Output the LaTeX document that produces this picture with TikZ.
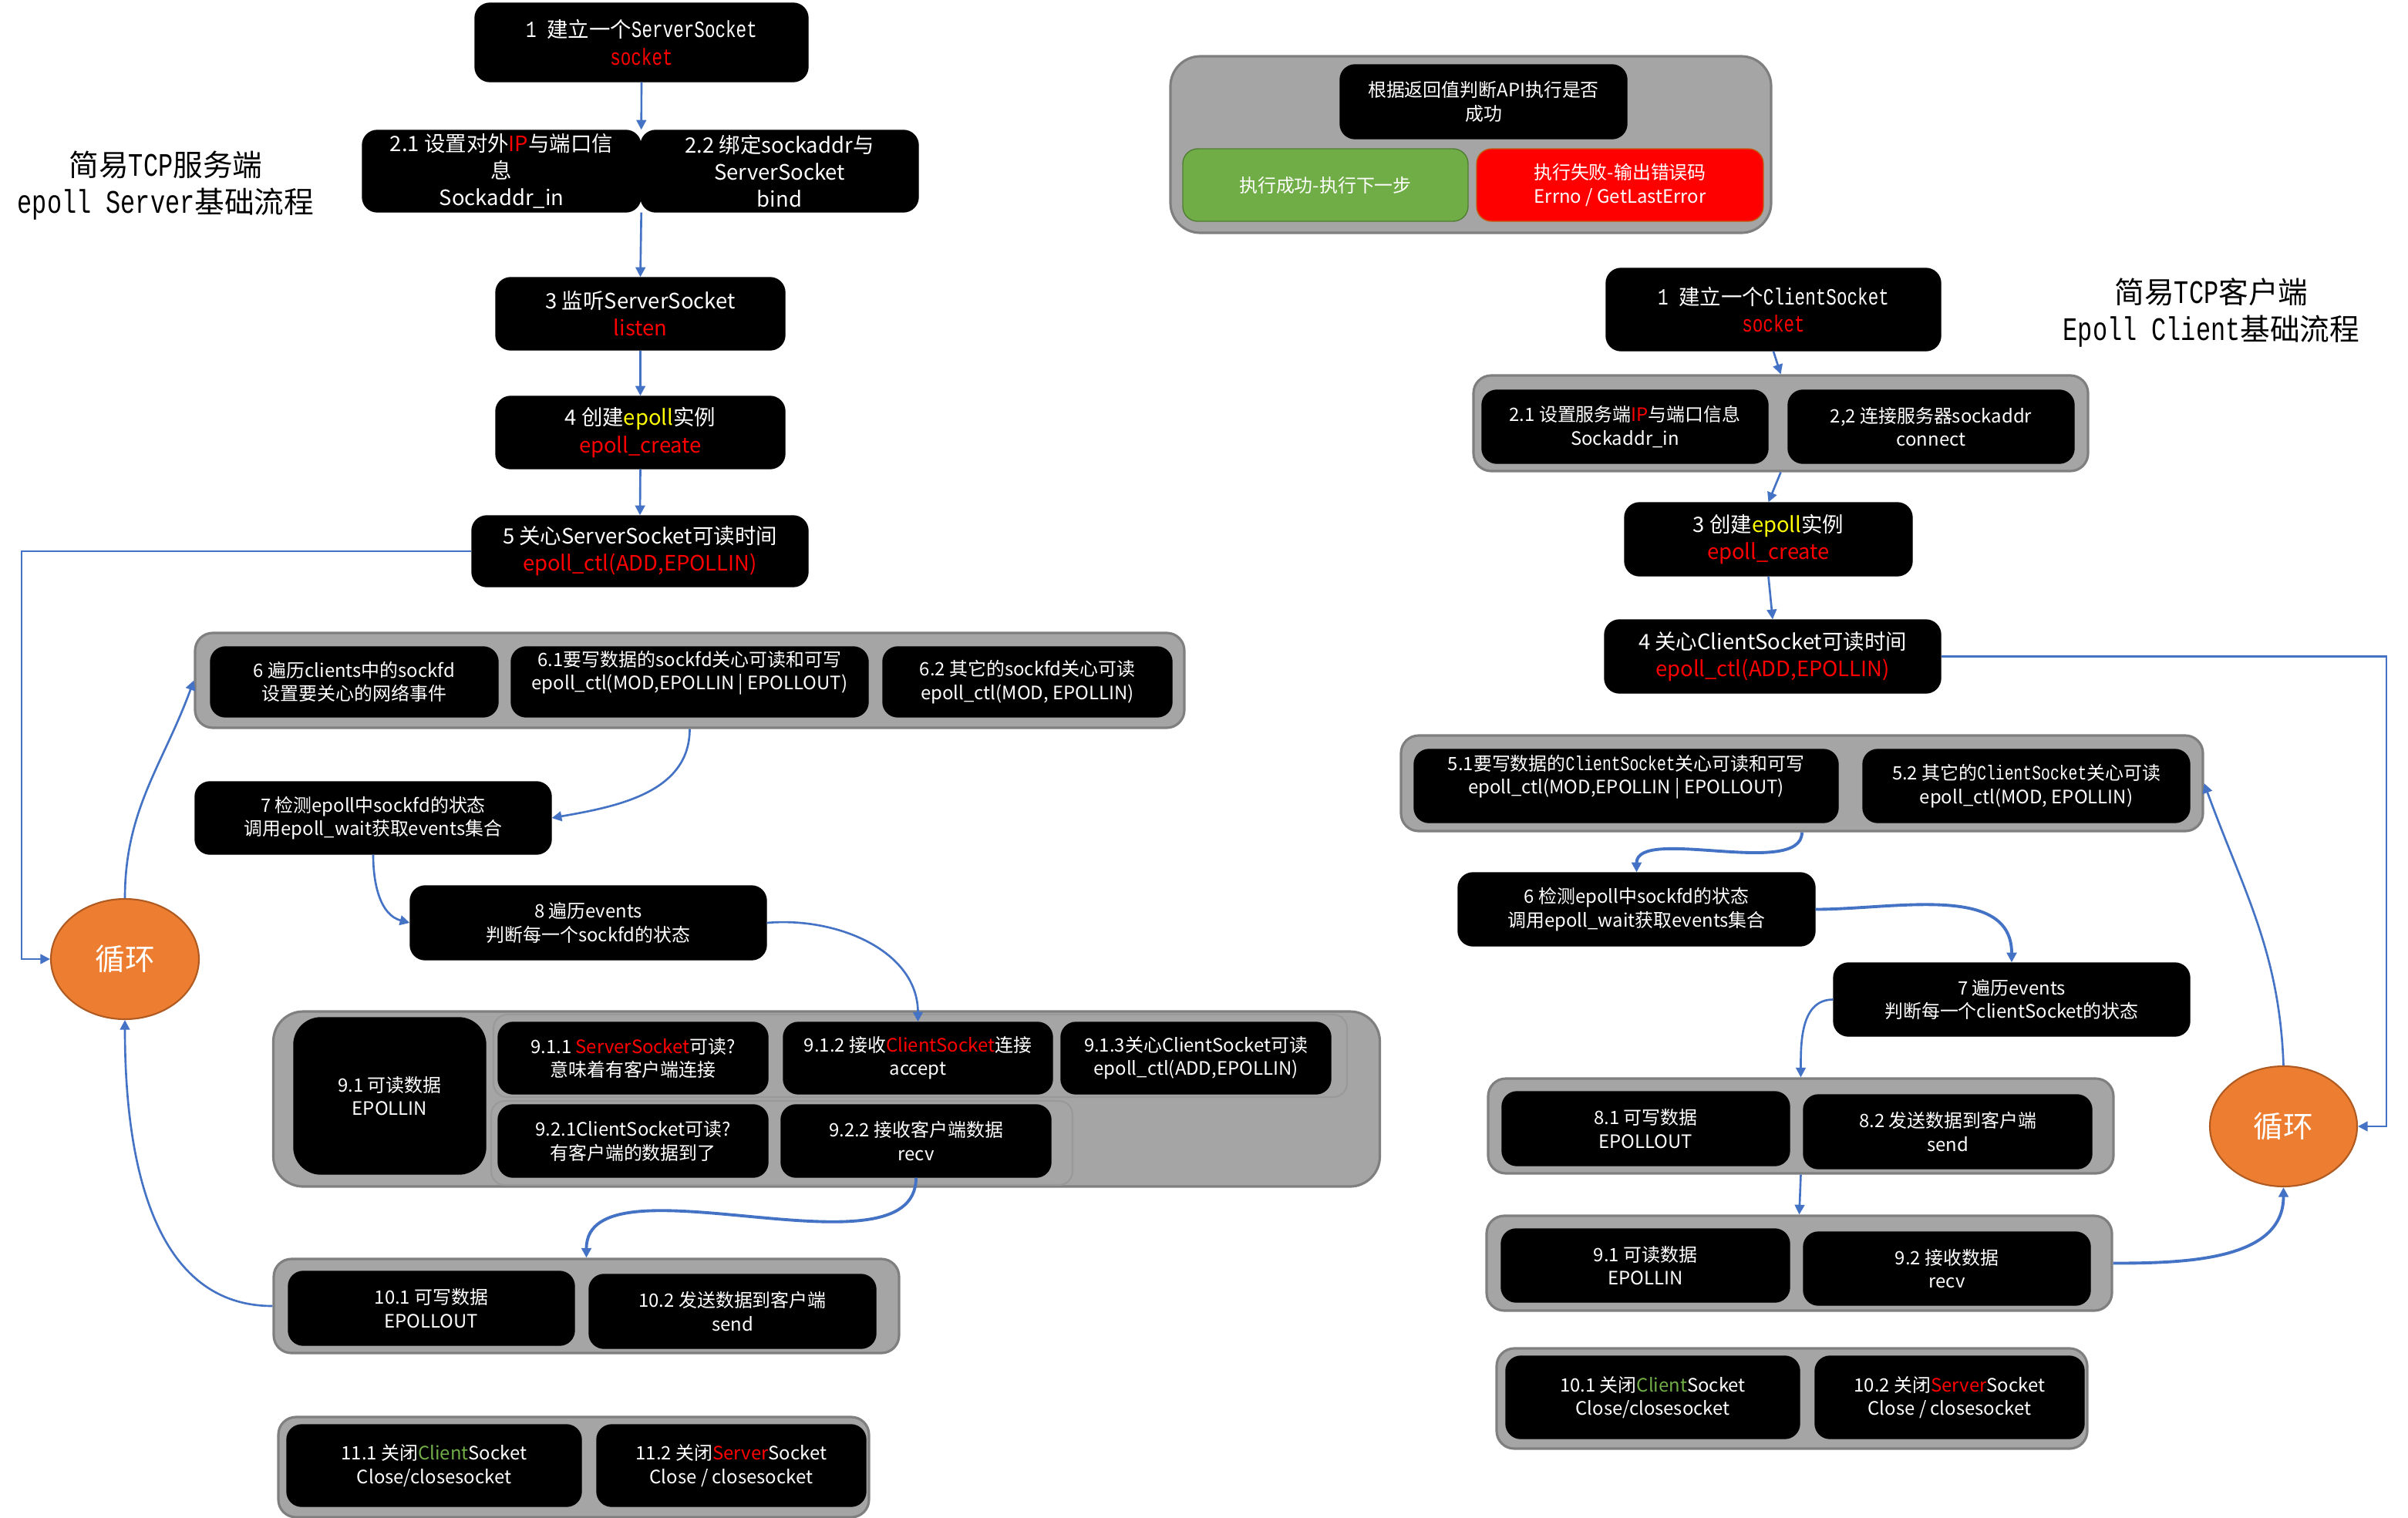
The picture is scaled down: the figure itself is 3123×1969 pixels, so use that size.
\documentclass[tikz,border=0pt]{standalone}
\usepackage{fontspec}
\setmainfont{Noto Sans CJK SC}
\newfontfamily\songlat[FakeStretch=0.75, Scale=1.1]{Liberation Mono}
\usetikzlibrary{arrows.meta, shapes.geometric}
\definecolor{cblue}{HTML}{4472C4}
\definecolor{corange}{HTML}{ED7D31}
\definecolor{cobrd}{HTML}{AE5A21}
\definecolor{cgrey}{HTML}{A5A5A5}
\definecolor{cgbrd}{HTML}{7F7F7F}
\definecolor{cgreen}{HTML}{70AD47}
\definecolor{cgnbrd}{HTML}{507E32}
\definecolor{cred}{HTML}{FF0000}
\definecolor{crbrd}{HTML}{C55A11}
\definecolor{cyel}{HTML}{FFFF00}
\newcommand{\fbig}{\fontsize{7.8}{10}\selectfont}
\newcommand{\fsmall}{\fontsize{6.8}{8.6}\selectfont}
\newcommand{\rd}[1]{\textcolor{cred}{#1}}
\tikzset{
  wh/.style 2 args={minimum width=#1*0.01cm, minimum height=#2*0.01cm},
  blk/.style={fill=black, draw=black, rounded corners=5.5pt, text=white, align=center, inner sep=0pt, font=\fsmall},
  blkbig/.style={blk, font=\fbig},
  grp/.style={fill=cgrey, draw=cgbrd, line width=0.9pt, rounded corners=6.5pt, inner sep=0pt},
  subgrp/.style={grp, draw=cgbrd!80, line width=0.6pt, rounded corners=5pt},
  loopnode/.style={ellipse, fill=corange, draw=cobrd, line width=0.6pt, inner sep=0pt, text=white, font=\fontsize{11}{13}\selectfont},
  title/.style={align=center, font=\fontsize{11}{13.7}\selectfont},
  flow/.style={-{Triangle[length=3.6pt, width=3.6pt]}, draw=cblue, line width=0.75pt},
  flowb/.style={flow, line width=1.1pt},
}

\begin{document}
\begin{tikzpicture}[x=0.01cm, y=-0.01cm]
  \path[use as bounding box, fill=white] (0,0) rectangle (3123,1969);

  % server side
  \node[title] (tS) at (215,241) {简易{\songlat TCP}服务端\\{\songlat epoll Server}基础流程};
  \node[blkbig, wh={432}{102}] (s1) at (832,55) {{\songlat 1 }建立一个{\songlat ServerSocket}\\\rd{\songlat socket}};
  \node[blkbig, wh={361}{106}] (s21) at (650.5,222) {2.1 设置对外\rd{IP}与端口信\\息\\Sockaddr\_in};
  \node[blkbig, wh={360}{106}] (s22) at (1011,222) {2.2 绑定sockaddr与\\ServerSocket\\bind};
  \node[blkbig, wh={375}{94}] (s3) at (830.5,407) {3 监听ServerSocket\\\rd{listen}};
  \node[blkbig, wh={375}{94}] (s4) at (830.5,561) {4 创建\textcolor{cyel}{epoll}实例\\\rd{epoll\_create}};
  \node[blkbig, wh={436}{92}] (s5) at (830,715) {5 关心ServerSocket可读时间\\\rd{epoll\_ctl(ADD,EPOLLIN)}};

  \node[grp, wh={1283}{123}] (g6) at (894.5,882.5) {};
  \node[blk, wh={373}{91}] (s6) at (459.5,884.5) {6 遍历clients中的sockfd\\设置要关心的网络事件};
  \node[blk, wh={463}{91}] (s61) at (894.5,884.5) {6.1要写数据的sockfd关心可读和可写\\epoll\_ctl(MOD,EPOLLIN | EPOLLOUT)\\\mbox{}};
  \node[blk, wh={375}{91}] (s62) at (1332.5,884.5) {6.2 其它的sockfd关心可读\\epoll\_ctl(MOD, EPOLLIN)};

  \node[blk, wh={462}{94}] (s7) at (484,1061) {7 检测epoll中sockfd的状态\\调用epoll\_wait获取events集合};
  \node[blk, wh={462}{96}] (s8) at (763,1197) {8 遍历events\\判断每一个sockfd的状态};
  \node[loopnode, wh={192}{156}] (loopS) at (162,1244) {循环};

  \node[grp, wh={1435}{227}, rounded corners=11pt] (g9) at (1072,1425.5) {};
  \node[blk, wh={249}{203}, rounded corners=10pt] (s91) at (505.5,1421.5) {9.1 可读数据\\EPOLLIN};
  \node[subgrp, wh={1107}{107}] (g91) at (1193.5,1369.5) {};
  \node[blk, wh={350}{93}] (s911) at (821,1372.5) {9.1.1 \rd{ServerSocket}可读?\\意味着有客户端连接};
  \node[blk, wh={349}{93}] (s912) at (1190.5,1372.5) {9.1.2 接收\rd{ClientSocket}连接\\accept};
  \node[blk, wh={350}{93}] (s913) at (1551,1372.5) {9.1.3关心ClientSocket可读\\epoll\_ctl(ADD,EPOLLIN)};
  \node[subgrp, wh={754}{109}] (g92) at (1014,1482.5) {};
  \node[blk, wh={350}{94}] (s921) at (821,1480) {9.2.1ClientSocket可读?\\有客户端的数据到了};
  \node[blk, wh={350}{94}] (s922) at (1188,1480) {9.2.2 接收客户端数据\\recv};

  \node[grp, wh={811}{122}] (g10) at (760.5,1694) {};
  \node[blk, wh={371}{96}] (s101) at (559.5,1697) {10.1 可写数据\\EPOLLOUT};
  \node[blk, wh={372}{96}] (s102) at (950,1701) {10.2 发送数据到客户端\\send};

  \node[grp, wh={766}{130}] (g11) at (744,1903) {};
  \node[blk, wh={382}{106}] (s111) at (563,1901) {11.1 关闭\textcolor{cgreen}{Client}Socket\\Close/closesocket};
  \node[blk, wh={349}{106}] (s112) at (948.5,1901) {11.2 关闭\rd{Server}Socket\\Close / closesocket};

  \draw[flow] (s1.south) -- (s21.north east);
  \draw[flow] (s21.south east) -- (s3.north);
  \draw[flow] (s3.south) -- (s4.north);
  \draw[flow] (s4.south) -- (s5.north);
  \coordinate (sbend) at (28,715);
  \draw[flow] (s5.west) -- (sbend) |- (loopS.west);
  \draw[flow] (loopS.north) to[out=90, in=250] (g6.west);
  \draw[flow] (g6.south) to[out=-90, in=10] (s7.east);
  \draw[flow] (s7.south) to[out=-90, in=165] (s8.west);
  \draw[flow] (s8.east) to[out=5, in=90] (s912.north);
  \draw[flowb] (s922.south) to[out=-90, in=90, looseness=0.8] (g10.north);
  \draw[flow] (g10.west) to[out=180, in=-90] (loopS.south);

  % legend
  \node[grp, wh={779}{229}, rounded corners=11pt] (lg) at (1907.5,187.5) {};
  \node[blk, wh={372}{96}] (lgq) at (1924,132) {根据返回值判断API执行是否\\成功};
  \node[blk, fill=cgreen, draw=cgnbrd, wh={370}{94}] (lgok) at (1719,240) {执行成功-执行下一步};
  \node[blk, fill=cred, draw=crbrd, wh={372}{94}] (lgerr) at (2101,240) {执行失败-输出错误码\\Errno / GetLastError};

  % client side
  \node[title] (tC) at (2868,405.5) {简易{\songlat TCP}客户端\\{\songlat Epoll Client}基础流程};
  \node[blkbig, wh={434}{107}] (c1) at (2300,401.5) {{\songlat 1 }建立一个{\songlat ClientSocket}\\\rd{\songlat socket}};
  \node[grp, wh={797}{124}] (g2c) at (2309.5,549) {};
  \node[blk, wh={371}{95}] (c21) at (2107.5,553.5) {2.1 设置服务端\rd{IP}与端口信息\\Sockaddr\_in};
  \node[blk, wh={371}{95}] (c22) at (2504.5,553.5) {2,2 连接服务器sockaddr\\connect};
  \node[blkbig, wh={373}{95}] (c3) at (2293.5,699.5) {3 创建\textcolor{cyel}{epoll}实例\\\rd{epoll\_create}};
  \node[blkbig, wh={436}{95}] (c4) at (2299,851.5) {4 关心ClientSocket可读时间\\\rd{epoll\_ctl(ADD,EPOLLIN)}};

  \node[grp, wh={1040}{124}] (g5c) at (2337,1016) {};
  \node[blk, wh={550}{95}] (c51) at (2109,1019.5) {5.1要写数据的{\songlat ClientSocket}关心可读和可写\\epoll\_ctl(MOD,EPOLLIN | EPOLLOUT)\\\mbox{}};
  \node[blk, wh={424}{95}] (c52) at (2628,1019.5) {5.2 其它的{\songlat ClientSocket}关心可读\\epoll\_ctl(MOD, EPOLLIN)};

  \node[blk, wh={463}{95}] (c6) at (2122.5,1179.5) {6 检测epoll中sockfd的状态\\调用epoll\_wait获取events集合};
  \node[blk, wh={462}{95}] (c7) at (2609,1296.5) {7 遍历events\\判断每一个clientSocket的状态};

  \node[grp, wh={811}{123}] (g8c) at (2335.5,1460.5) {};
  \node[blk, wh={373}{96}] (c81) at (2134.5,1464) {8.1 可写数据\\EPOLLOUT};
  \node[blk, wh={374}{96}] (c82) at (2526,1468) {8.2 发送数据到客户端\\send};

  \node[grp, wh={811}{123}] (g9c) at (2333.5,1638.5) {};
  \node[blk, wh={374}{95}] (c91) at (2134,1641.5) {9.1 可读数据\\EPOLLIN};
  \node[blk, wh={372}{95}] (c92) at (2525,1645.5) {9.2 接收数据\\recv};

  \node[grp, wh={766}{130}] (g10c) at (2324,1814) {};
  \node[blk, wh={381}{107}] (c101) at (2143.5,1812.5) {10.1 关闭\textcolor{cgreen}{Client}Socket\\Close/closesocket};
  \node[blk, wh={349}{107}] (c102) at (2528.5,1812.5) {10.2 关闭\rd{Server}Socket\\Close / closesocket};

  \node[loopnode, wh={191}{156}] (loopC) at (2961.5,1461) {循环};

  \draw[flow] (c1.south) -- (g2c.north);
  \draw[flow] (g2c.south) -- (c3.north);
  \draw[flow] (c3.south) -- (c4.north);
  \coordinate (cbend) at (3095,851.5);
  \draw[flow] (c4.east) -- (cbend) |- (loopC.east);
  \draw[flow] (loopC.north) to[out=92, in=-70] (g5c.east);
  \draw[flowb] (g5c.south) to[out=-90, in=90, looseness=0.7] (c6.north);
  \draw[flowb] (c6.east) to[out=0, in=90] (c7.north);
  \draw[flow] (c7.west) to[out=180, in=90] (g8c.north);
  \draw[flow] (g8c.south) -- (g9c.north);
  \draw[flowb] (g9c.east) to[out=0, in=-90] (loopC.south);
\end{tikzpicture}
\end{document}
